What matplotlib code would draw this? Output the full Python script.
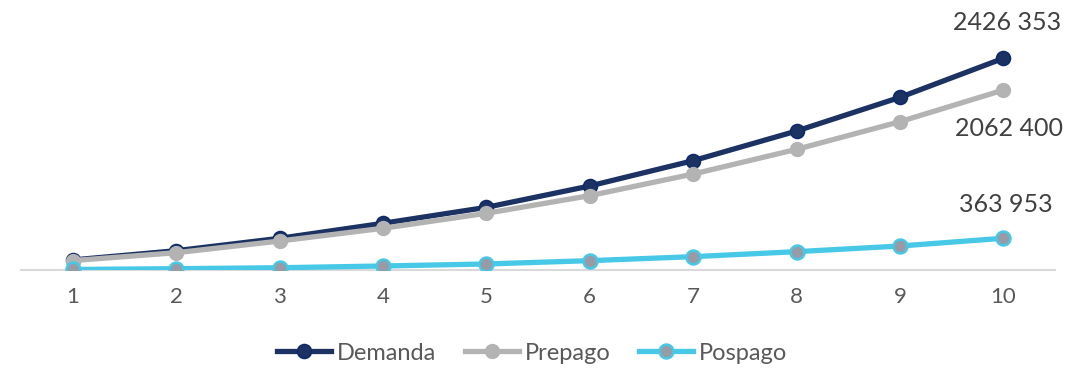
import matplotlib.pyplot as plt

periods = [1, 2, 3, 4, 5, 6, 7, 8, 9, 10]
demanda = [115000, 221000, 363000, 535000, 718000, 963000, 1253000, 1593000, 1979000, 2426353]
prepago = [108000, 198000, 332000, 478000, 650000, 852000, 1100000, 1383000, 1700000, 2062400]
pospago = [6000, 15000, 26000, 46000, 69000, 107000, 153000, 210000, 275000, 363953]

plt.rcParams["font.family"] = ["Lato", "DejaVu Sans"]

fig = plt.figure(figsize=(10.92, 3.68), dpi=100)
ax = fig.add_axes([21 / 1092, 1 - 270 / 368, 1034 / 1092, 270 / 368])

ax.plot(periods, demanda, color="#1b3263", lw=3.8, marker="o", ms=10,
        mfc="#1b3263", mec="#0e2a6a", mew=1.2, label="Demanda", zorder=2)
ax.plot(periods, prepago, color="#b3b3b3", lw=3.8, marker="o", ms=10,
        mfc="#b3b3b3", mec="#b3b3b3", label="Prepago", zorder=3)
ax.plot(periods, pospago, color="#46c8e6", lw=3.8, marker="o", ms=10,
        mfc="#989ba5", mec="#46c8e6", mew=1.8, label="Pospago", zorder=4)


def fmt(v):
    # Excel style "# ###": only the thousands group is separated
    return f"{v // 1000} {v % 1000:03d}"


lab = dict(fontsize=18, color="#404040", ha="center", va="center")
ax.annotate(fmt(demanda[-1]), (periods[-1], demanda[-1]), xytext=(3, 26),
            textcoords="offset points", **lab)
ax.annotate(fmt(prepago[-1]), (periods[-1], prepago[-1]), xytext=(4, -28),
            textcoords="offset points", **lab)
ax.annotate(fmt(pospago[-1]), (periods[-1], pospago[-1]), xytext=(2, 24),
            textcoords="offset points", **lab)

ax.set_xlim(0.5, 10.5)
ax.set_ylim(0, 3.095e6)
ax.set_xticks(periods)
ax.tick_params(axis="x", length=0, labelsize=16, labelcolor="#595959", pad=12)
ax.set_yticks([])
for s in ["top", "right", "left"]:
    ax.spines[s].set_visible(False)
ax.spines["bottom"].set_color("#d9d9d9")
ax.spines["bottom"].set_linewidth(1.5)

fig.legend(loc="center", bbox_to_anchor=(532 / 1092, 1 - 353 / 368), ncol=3,
           frameon=False, fontsize=17, handlelength=2.3, handletextpad=0.25,
           columnspacing=1.2, labelcolor="#595959")

fig.savefig("out.png", dpi=100)
